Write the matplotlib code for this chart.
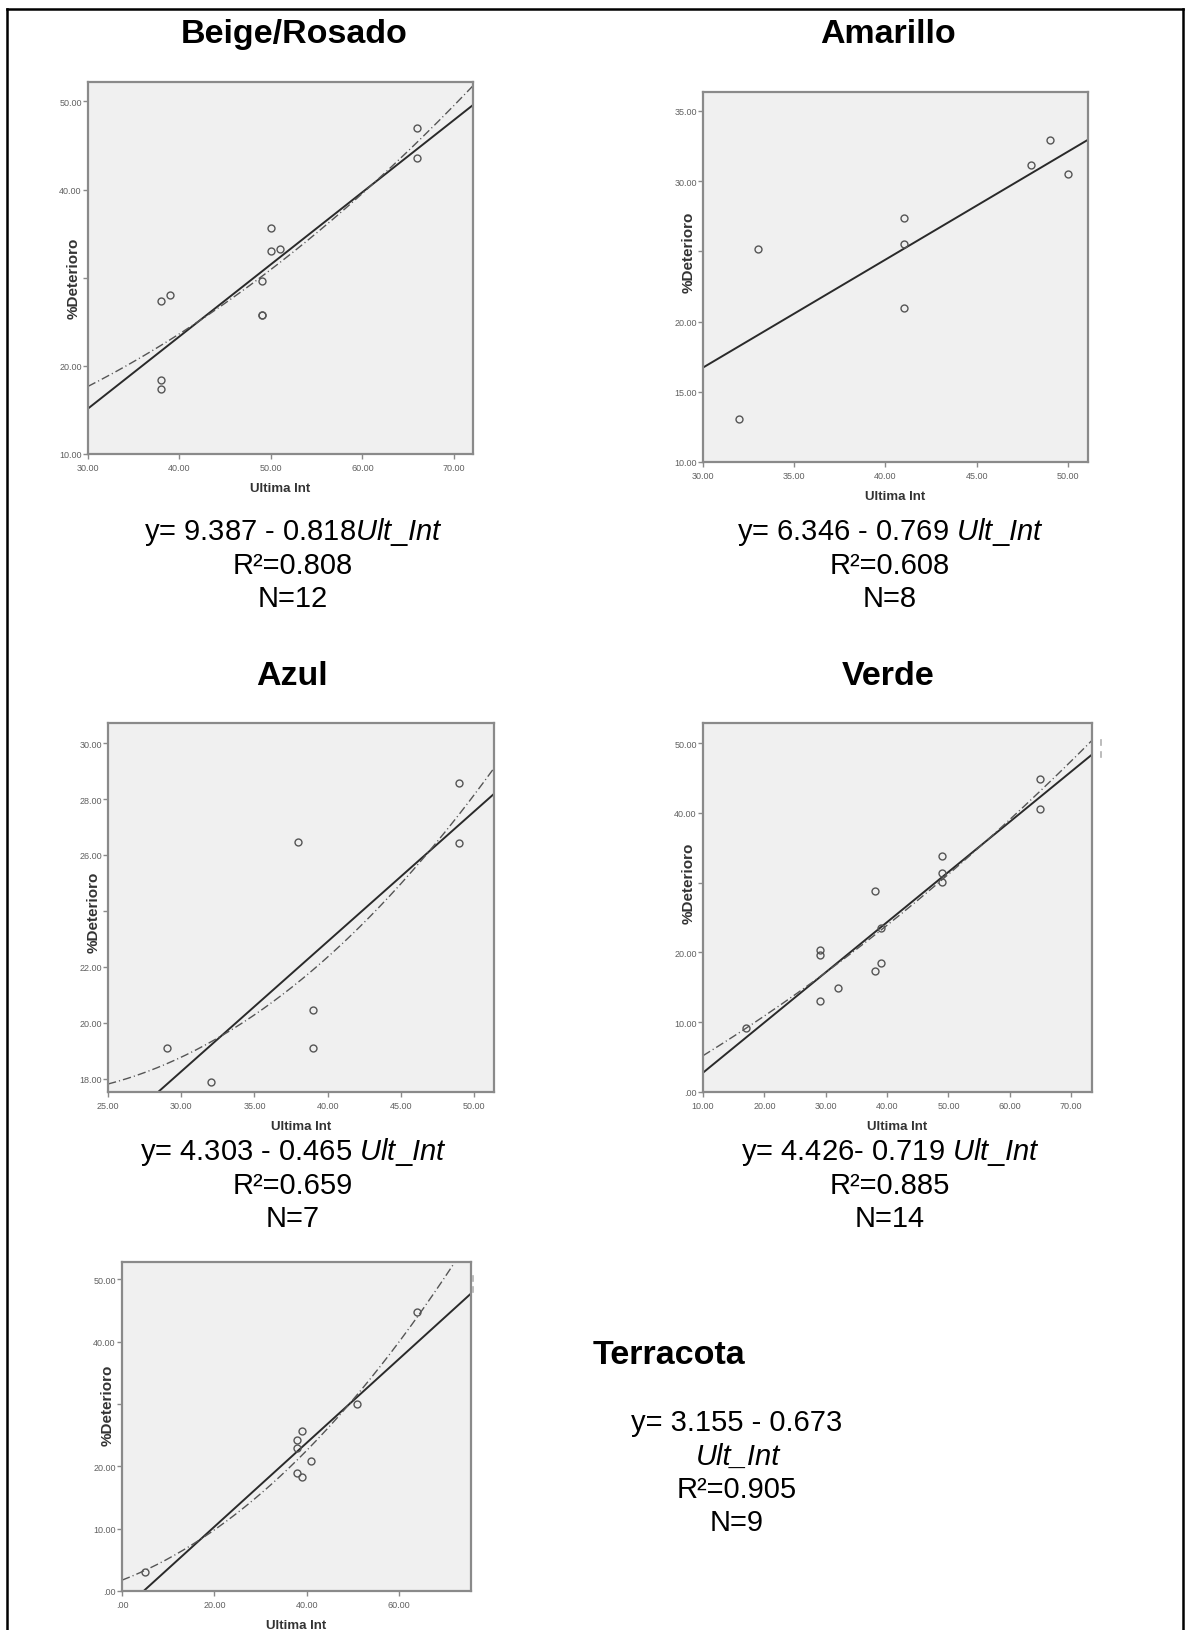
import numpy as np
import matplotlib.pyplot as plt
from matplotlib.lines import Line2D
from matplotlib.ticker import FuncFormatter

plt.rcParams['font.family'] = ['Liberation Sans', 'DejaVu Sans']
plt.rcParams['mathtext.fontset'] = 'custom'
plt.rcParams['mathtext.rm'] = 'Liberation Sans'
plt.rcParams['mathtext.it'] = 'Liberation Sans:italic'

W, H = 1186, 1631

# --- data (Ultima Int vs %Deterioro) ---
beige_x = [38, 39, 38, 38, 49, 49, 49, 50, 50, 51, 66, 66]
beige_y = [27.3, 28.0, 18.4, 17.4, 29.6, 25.8, 25.8, 33.0, 35.6, 33.25, 47.0, 43.6]

amarillo_x = [32, 33, 41, 41, 41, 48, 49, 50]
amarillo_y = [13.07, 25.2, 27.36, 25.56, 21.0, 31.17, 32.93, 30.5]

azul_x = [29, 32, 38, 39, 39, 49, 49]
azul_y = [19.1, 17.88, 26.48, 20.44, 19.09, 28.57, 26.44]

verde_x = [17, 29, 29, 29, 32, 38, 38, 39, 39, 49, 49, 49, 65, 65]
verde_y = [9.23, 20.38, 19.67, 13.06, 14.88, 28.85, 17.37, 18.42, 23.49,
           33.83, 31.34, 30.14, 44.83, 40.53]

terracota_x = [5, 38, 38, 39, 38, 39, 41, 51, 64]
terracota_y = [3.1, 24.28, 23.0, 25.67, 18.98, 18.24, 20.86, 30.0, 44.76]

# linear fits (intercept, slope) and the text shown under each plot
titles = ["Beige/Rosado", "Amarillo", "Azul", "Verde", "Terracota"]
intercepts = [-9.387, -6.346, 4.303, -4.426, -3.155]
slopes = [0.818, 0.769, 0.465, 0.719, 0.673]
eq_text = [r"y= 9.387 - 0.818$\mathit{Ult\_Int}$",
           r"y= 6.346 - 0.769 $\mathit{Ult\_Int}$",
           r"y= 4.303 - 0.465 $\mathit{Ult\_Int}$",
           r"y= 4.426- 0.719 $\mathit{Ult\_Int}$"]
r2_text = ["R²=0.808", "R²=0.608", "R²=0.659", "R²=0.885", "R²=0.905"]
n_text = ["N=12", "N=8", "N=7", "N=14", "N=9"]


def px(x, y):
    return x / W, 1 - y / H


def spss_fmt(hide):
    def f(v, pos=None):
        if hide is not None and abs(v - hide) < 1e-9:
            return ""
        s = f"{v:.2f}"
        if s.startswith("0."):
            s = s[1:]
        return s
    return f


def draw_panel(box, x, y, b0, b1, quad, xlim, ylim, xticks, yticks, hide):
    l, t, r, b = box
    ax = fig.add_axes([l / W, 1 - b / H, (r - l) / W, (b - t) / H])
    ax.set_facecolor("#f0f0f0")
    for sp in ax.spines.values():
        sp.set_color("#8a8a8a")
        sp.set_linewidth(1.6)
    ax.set_xlim(xlim)
    ax.set_ylim(ylim)

    xs = np.linspace(xlim[0], xlim[1], 200)
    ax.plot(xs, b0 + b1 * xs, color="#2a2a2a", lw=1.4, zorder=2)
    if quad:
        c = np.polyfit(x, y, 2)
        ax.plot(xs, np.polyval(c, xs), color="#555555", lw=1.0,
                ls=(0, (6, 2.2, 0.8, 2.2)), zorder=2)
    ax.plot(x, y, "o", ms=5, mfc="none", mec="#555555", mew=1.0, zorder=3)

    ax.set_xticks(xticks)
    ax.set_yticks(yticks)
    ax.xaxis.set_major_formatter(FuncFormatter(spss_fmt(None)))
    ax.yaxis.set_major_formatter(FuncFormatter(spss_fmt(hide)))
    ax.tick_params(direction="out", length=3.5, width=1, color="#8a8a8a",
                   labelsize=6.5, labelcolor="#606060")
    ax.tick_params(axis="x", pad=3)
    ax.tick_params(axis="y", pad=1)

    ax.set_xlabel("Ultima Int", fontsize=9.5, fontweight="bold", color="#333333")
    ax.xaxis.set_label_coords(0.5, -34 / (b - t), transform=ax.transAxes)
    ax.xaxis.label.set_va("center")
    ax.set_ylabel("%Deterioro", fontsize=11, fontweight="bold", color="#333333")
    yfrac = (hide - ylim[0]) / (ylim[1] - ylim[0])
    ax.yaxis.set_label_coords(-14 / (r - l), yfrac, transform=ax.transAxes)
    ax.yaxis.label.set_va("center")
    return ax


fig = plt.figure(figsize=(W / 100, H / 100), dpi=100)

draw_panel((88, 83, 473, 455), beige_x, beige_y, intercepts[0], slopes[0], True,
           (30, 72.1), (10, 52.2), [30, 40, 50, 60, 70], [10, 20, 30, 40, 50], 30)
draw_panel((703, 93, 1088, 463), amarillo_x, amarillo_y, intercepts[1], slopes[1], False,
           (30, 51.1), (10, 36.35), [30, 35, 40, 45, 50], [10, 15, 20, 25, 30, 35], 25)
draw_panel((108, 724, 494, 1093), azul_x, azul_y, intercepts[2], slopes[2], True,
           (25, 51.36), (17.52, 30.72), [25, 30, 35, 40, 45, 50],
           [18, 20, 22, 24, 26, 28, 30], 24)
draw_panel((703, 724, 1092, 1093), verde_x, verde_y, intercepts[3], slopes[3], True,
           (10, 73.4), (0, 52.87), [10, 20, 30, 40, 50, 60, 70],
           [0, 10, 20, 30, 40, 50], 30)
draw_panel((122, 1263, 471, 1592), terracota_x, terracota_y, intercepts[4], slopes[4], True,
           (0, 75.6), (0, 52.78), [0, 20, 40, 60], [0, 10, 20, 30, 40, 50], 30)

# titles
title_pos = [(294, 43), (888, 43), (292, 685), (888, 685)]
for name, (tx, ty) in zip(titles[:4], title_pos):
    fig.text(*px(tx, ty), name, fontsize=24.5, fontweight="bold",
             ha="center", va="baseline")
fig.text(*px(593, 1364), titles[4], fontsize=24.5, fontweight="bold",
         ha="left", va="baseline")

# equation blocks
eq_pos = [(293, 540), (890, 540), (293, 1160), (890, 1160)]
for i, (cx, by) in enumerate(eq_pos):
    fig.text(*px(cx, by), eq_text[i], fontsize=21, ha="center", va="baseline")
    fig.text(*px(cx, by + 33.5), r2_text[i], fontsize=21, ha="center", va="baseline")
    fig.text(*px(cx, by + 67), n_text[i], fontsize=21, ha="center", va="baseline")

fig.text(*px(737, 1431.5), "y= 3.155 - 0.673", fontsize=21, ha="center", va="baseline")
fig.text(*px(738, 1465), "Ult_Int", fontsize=21, style="italic", ha="center", va="baseline")
fig.text(*px(737, 1498), r2_text[4], fontsize=21, ha="center", va="baseline")
fig.text(*px(737, 1531.5), n_text[4], fontsize=21, ha="center", va="baseline")

# small legend remnants at the right of two plots
for mx, my in [(1100.7, 743), (1100.7, 755), (472.7, 1279), (472.7, 1290)]:
    x0, y0 = px(mx, my - 2.5)
    x1, y1 = px(mx, my + 2.5)
    fig.add_artist(Line2D([x0, x1], [y0, y1], color="#b0b0b0", lw=1.2))

# page frame
for (ax0, ay0), (ax1, ay1) in [((7, 10), (7, H)), ((7, 10), (1183, 10)),
                               ((1183, 10), (1183, H))]:
    p0 = px(ax0, ay0)
    p1 = px(ax1, ay1)
    fig.add_artist(Line2D([p0[0], p1[0]], [p0[1], p1[1]], color="black", lw=1.8))

fig.savefig("out.png", dpi=100)
